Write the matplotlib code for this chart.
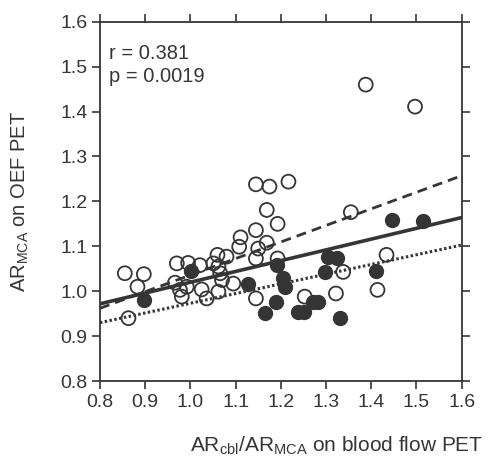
import numpy as np
import matplotlib.pyplot as plt

plt.rcParams['font.family'] = ['Liberation Sans', 'DejaVu Sans']
plt.rcParams['mathtext.fontset'] = 'custom'
plt.rcParams['mathtext.rm'] = 'Liberation Sans'
plt.rcParams['mathtext.it'] = 'Liberation Sans'

# open circles
open_x = [1.388, 1.497, 1.355, 1.145, 1.175, 1.217, 1.169, 1.193, 1.145, 1.111,
          1.108, 1.169, 1.150, 1.145, 1.193, 1.060, 1.080, 0.970, 0.995, 1.021,
          1.051, 1.062, 1.066, 1.070, 1.095, 0.966, 0.977, 0.992, 0.981, 1.025,
          1.036, 1.062, 0.855, 0.897, 0.883, 0.863, 1.145, 1.338, 1.322, 1.414,
          1.434, 1.253]
open_y = [1.460, 1.411, 1.176, 1.238, 1.233, 1.244, 1.181, 1.150, 1.136, 1.120,
          1.099, 1.108, 1.095, 1.073, 1.073, 1.081, 1.077, 1.062, 1.063, 1.058,
          1.062, 1.055, 1.040, 1.025, 1.017, 1.019, 1.003, 1.010, 0.988, 1.004,
          0.984, 0.999, 1.040, 1.038, 1.010, 0.940, 0.984, 1.043, 0.995, 1.003,
          1.081, 0.988]

# filled circles
fill_x = [1.445, 1.515, 1.410, 1.305, 1.324, 1.298, 1.001, 1.128, 1.192, 1.204,
          1.210, 1.189, 1.165, 1.239, 1.251, 1.272, 1.283, 1.331, 0.897]
fill_y = [1.158, 1.157, 1.046, 1.077, 1.075, 1.043, 1.046, 1.017, 1.058, 1.029,
          1.010, 0.977, 0.951, 0.954, 0.954, 0.977, 0.977, 0.940, 0.980]

# regression lines (value at x=0.8, slope)
solid_fit = (0.972, 0.240)
dashed_fit = (0.962, 0.369)
dotted_fit = (0.930, 0.216)

ticks = [0.8, 0.9, 1.0, 1.1, 1.2, 1.3, 1.4, 1.5, 1.6]
ink = '#353535'

fig = plt.figure(figsize=(4.9, 4.63), dpi=100)
ax = fig.add_axes([0.204, 0.177, 0.738, 0.776])

ax.scatter(open_x, open_y, s=100, facecolor='none', edgecolor=ink, linewidth=1.3, zorder=2)
ax.scatter(fill_x, fill_y, s=100, facecolor=ink, edgecolor=ink, linewidth=1.0, zorder=2)

xs = np.array([0.8, 1.6])
for (b, m), ls, lw in [(solid_fit, '-', 2.6), (dashed_fit, (0, (3.6, 2.2)), 2.0),
                       (dotted_fit, (0, (0.8, 0.8)), 2.2)]:
    ax.plot(xs, b + m * (xs - 0.8), color=ink, linestyle=ls, linewidth=lw, zorder=3)

ax.set_xlim(0.8, 1.6)
ax.set_ylim(0.8, 1.6)
ax.set_xticks(ticks)
ax.set_yticks(ticks)
ax.set_xticklabels([f'{t:.1f}' for t in ticks])
ax.set_yticklabels([f'{t:.1f}' for t in ticks])
ax.tick_params(direction='out', length=6, width=1.2, color=ink, labelsize=14,
               labelcolor=ink, top=True, right=True, pad=3)
for sp in ax.spines.values():
    sp.set_color(ink)
    sp.set_linewidth(1.3)

ax.text(0.025, 0.913, 'r = 0.381', transform=ax.transAxes, fontsize=14.5,
        color=ink, va='center')
ax.text(0.025, 0.849, 'p = 0.0019', transform=ax.transAxes, fontsize=14.5,
        color=ink, va='center')

ax.set_ylabel(r'AR$_{\mathrm{MCA}}$ on OEF PET', fontsize=14.5, color=ink)
ax.yaxis.set_label_coords(-0.19, 0.5)
ax.set_xlabel(r'AR$_{\mathrm{cbl}}$/AR$_{\mathrm{MCA}}$ on blood flow PET',
              fontsize=15, color=ink, ha='right')
ax.xaxis.set_label_coords(1.06, -0.15)

fig.savefig('out.png', dpi=100)
